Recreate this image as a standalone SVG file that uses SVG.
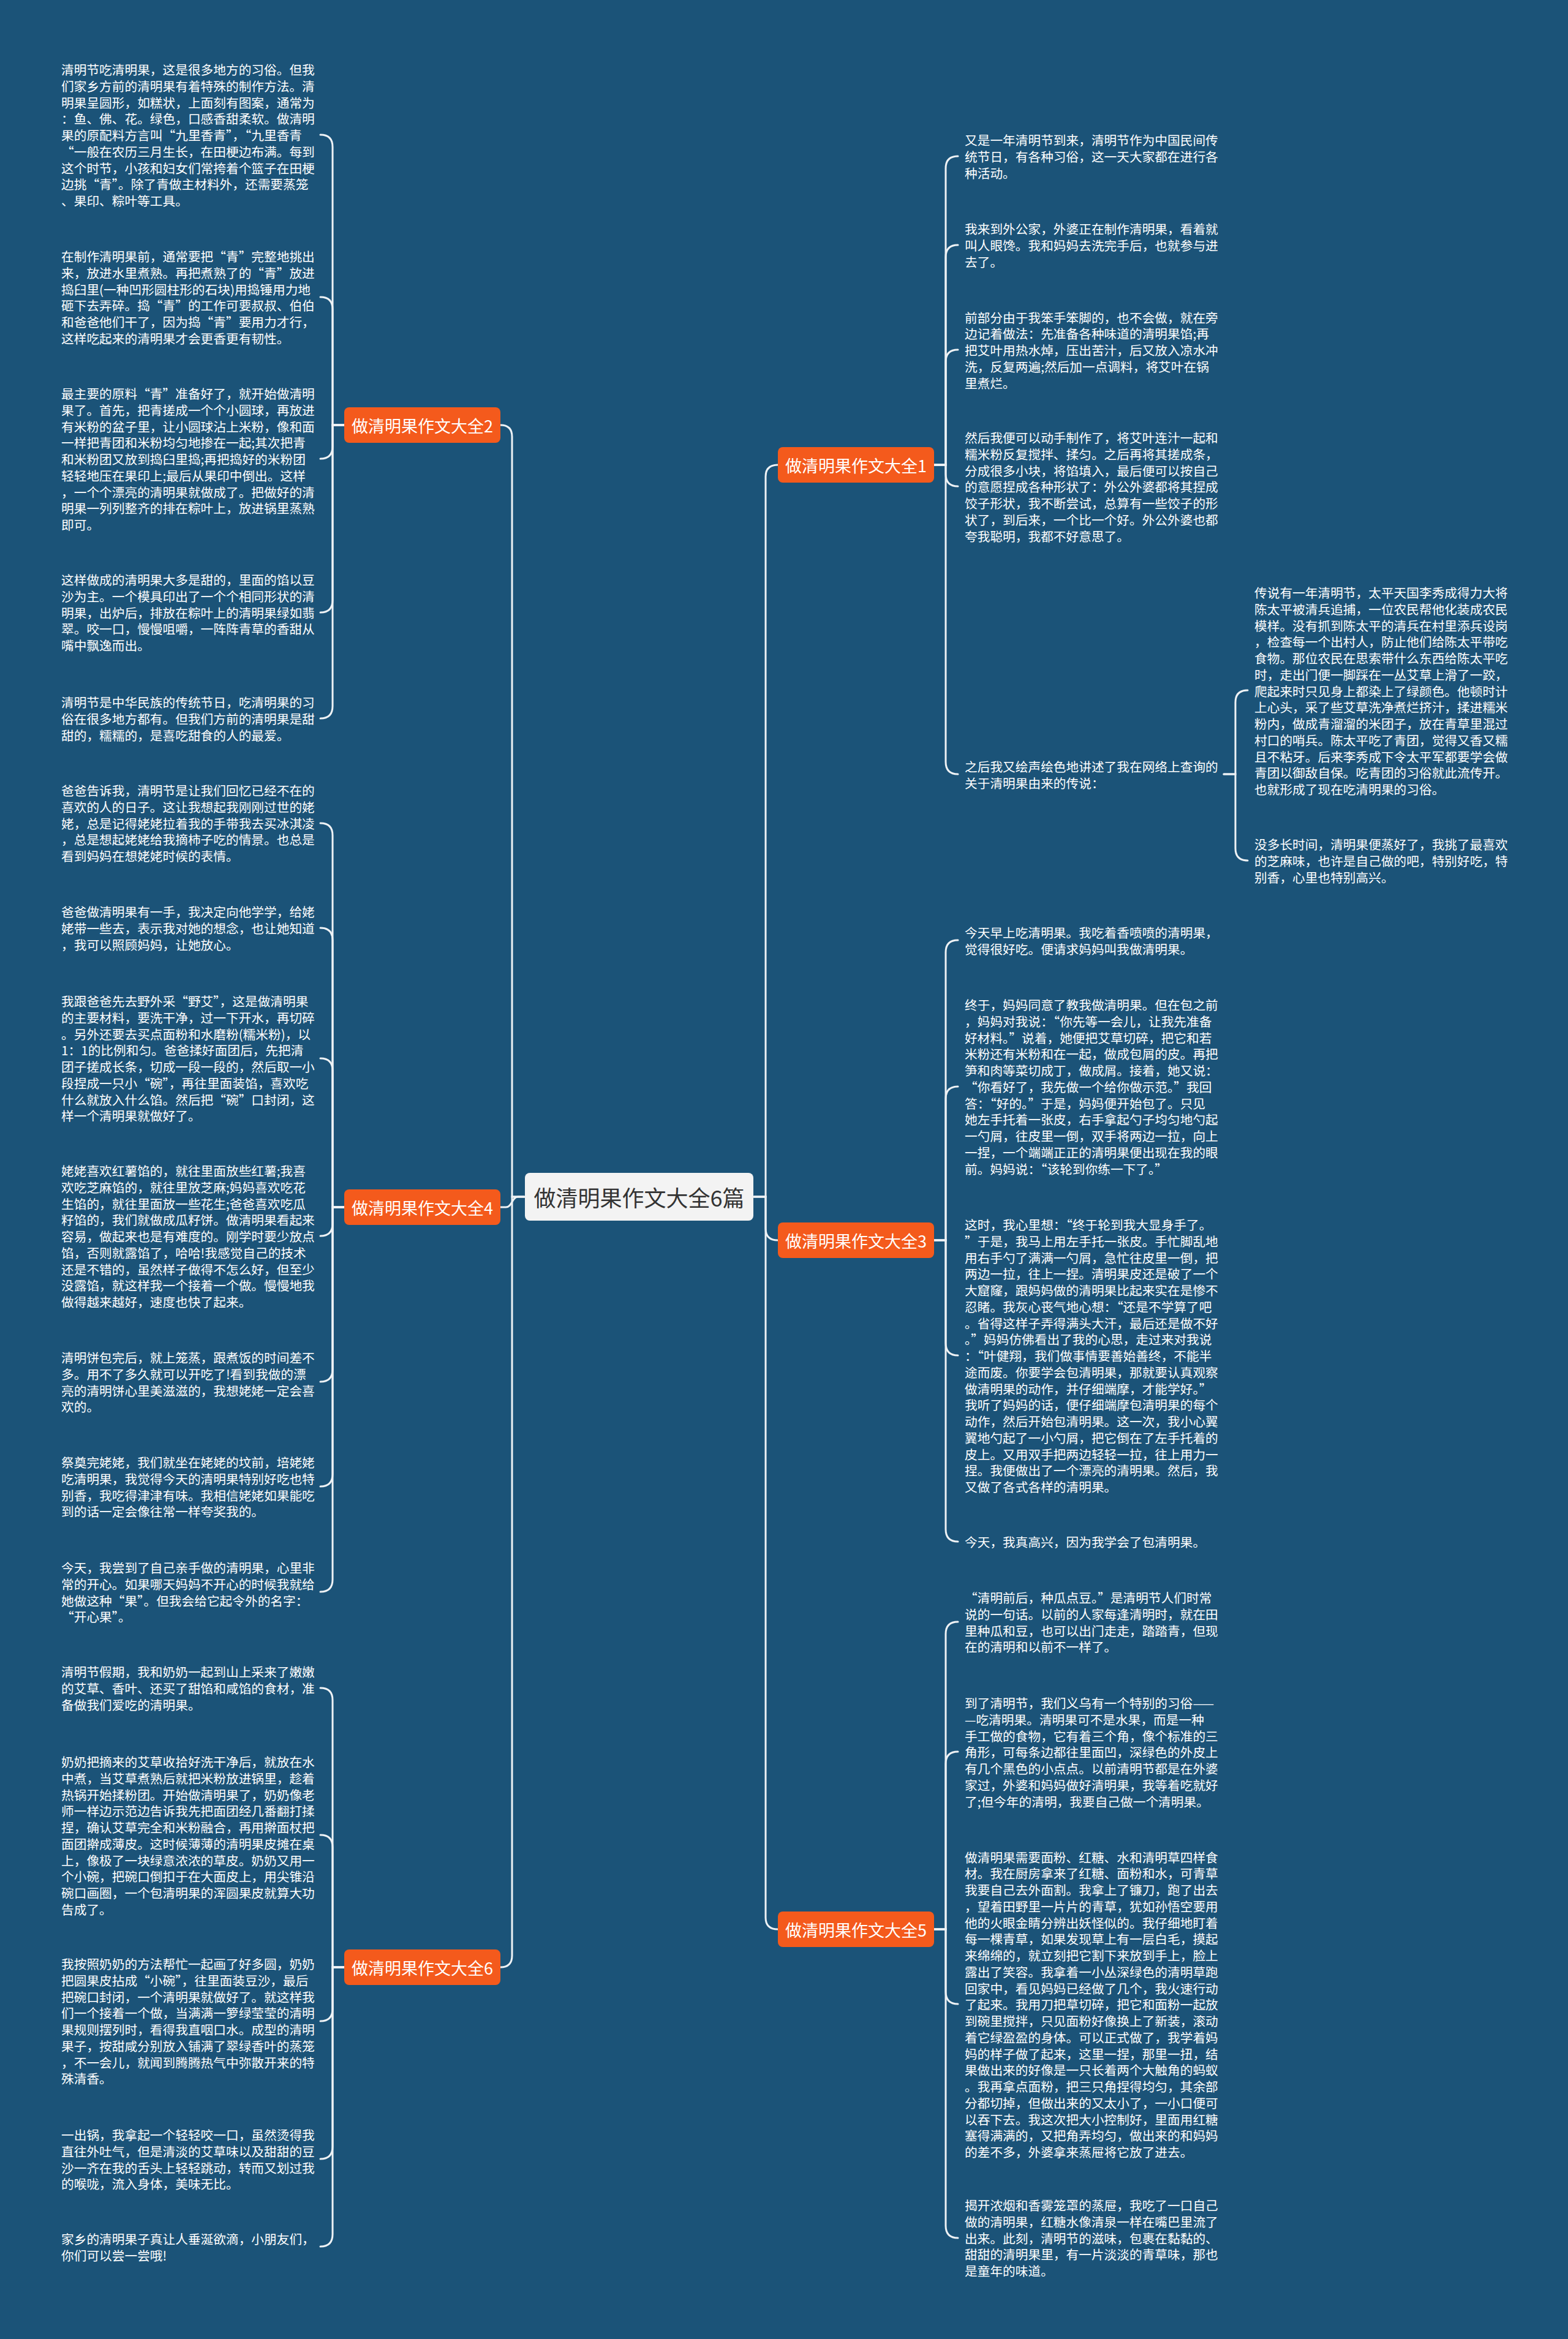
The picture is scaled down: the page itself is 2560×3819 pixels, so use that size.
<svg xmlns="http://www.w3.org/2000/svg" width="2560" height="3819" viewBox="0 0 2560 3819">
<style>
.ln{fill:none;stroke:#eef2f5;stroke-width:3;stroke-linecap:round}
.t{font-family:"Noto Sans CJK SC","Noto Sans",sans-serif;font-size:20.7px;fill:#ffffff;dominant-baseline:central}
.br{fill:#f45a1c}
.bt{font-family:"Noto Sans CJK SC","Noto Sans",sans-serif;font-size:27px;fill:#ffffff;text-anchor:middle;dominant-baseline:central}
.ct{font-family:"Noto Sans CJK SC","Noto Sans",sans-serif;font-size:36px;fill:#333333;text-anchor:middle;dominant-baseline:central}
</style>
<rect x="0" y="0" width="2560" height="3819" fill="#1b5378"/>
<g id="connectors">
<path class="ln" d="M856 1954 H836 V713 Q836 694 817 694"/>
<path class="ln" d="M856 1954 H846 C836 1954 836 1971 826 1971 H817"/>
<path class="ln" d="M856 1954 H836 V3193 Q836 3212 817 3212"/>
<path class="ln" d="M1231 1954 H1250 V778 Q1250 759 1270 759"/>
<path class="ln" d="M1231 1954 H1250 V2006 Q1250 2025 1270 2025"/>
<path class="ln" d="M1231 1954 H1250 V3131 Q1250 3150 1270 3150"/>
<path class="ln" d="M562 694 H543 V240 Q543 220 523 220"/>
<path class="ln" d="M562 694 H543 V505 Q543 485 523 485"/>
<path class="ln" d="M562 694 H543 V729 Q543 749 523 749"/>
<path class="ln" d="M562 694 H543 V980 Q543 1000 523 1000"/>
<path class="ln" d="M562 694 H543 V1153 Q543 1173 523 1173"/>
<path class="ln" d="M562 1971 H543 V1364 Q543 1344 523 1344"/>
<path class="ln" d="M562 1971 H543 V1535 Q543 1515 523 1515"/>
<path class="ln" d="M562 1971 H543 V1748 Q543 1728 523 1728"/>
<path class="ln" d="M562 1971 H543 V1998 Q543 2018 523 2018"/>
<path class="ln" d="M562 1971 H543 V2236 Q543 2256 523 2256"/>
<path class="ln" d="M562 1971 H543 V2407 Q543 2427 523 2427"/>
<path class="ln" d="M562 1971 H543 V2579 Q543 2599 523 2599"/>
<path class="ln" d="M562 3212 H543 V2776 Q543 2756 523 2756"/>
<path class="ln" d="M562 3212 H543 V3016 Q543 2996 523 2996"/>
<path class="ln" d="M562 3212 H543 V3280 Q543 3300 523 3300"/>
<path class="ln" d="M562 3212 H543 V3505 Q543 3525 523 3525"/>
<path class="ln" d="M562 3212 H543 V3648 Q543 3668 523 3668"/>
<path class="ln" d="M1525 759 H1544 V275 Q1544 255 1564 255"/>
<path class="ln" d="M1525 759 H1544 V420 Q1544 400 1564 400"/>
<path class="ln" d="M1525 759 H1544 V591 Q1544 571 1564 571"/>
<path class="ln" d="M1525 759 H1544 V774 Q1544 794 1564 794"/>
<path class="ln" d="M1525 759 H1544 V1244 Q1544 1264 1564 1264"/>
<path class="ln" d="M1998 1264 H2017 V1147 Q2017 1127 2037 1127"/>
<path class="ln" d="M1998 1264 H2017 V1385 Q2017 1405 2037 1405"/>
<path class="ln" d="M1525 2025 H1544 V1555 Q1544 1535 1564 1535"/>
<path class="ln" d="M1525 2025 H1544 V1794 Q1544 1774 1564 1774"/>
<path class="ln" d="M1525 2025 H1544 V2193 Q1544 2213 1564 2213"/>
<path class="ln" d="M1525 2025 H1544 V2497 Q1544 2517 1564 2517"/>
<path class="ln" d="M1525 3150 H1544 V2668 Q1544 2648 1564 2648"/>
<path class="ln" d="M1525 3150 H1544 V2880 Q1544 2860 1564 2860"/>
<path class="ln" d="M1525 3150 H1544 V3252 Q1544 3272 1564 3272"/>
<path class="ln" d="M1525 3150 H1544 V3634 Q1544 3654 1564 3654"/>
</g>
<g id="root"><rect x="857" y="1915" width="373" height="78" rx="8" fill="#f3f3f3"/><text class="ct" x="1043.5" y="1954">做清明果作文大全6篇</text></g>
<g id="b2"><rect class="br" x="562" y="665" width="255" height="58" rx="8"/><text class="bt" x="689.5" y="694">做清明果作文大全2</text></g>
<g id="b4"><rect class="br" x="562" y="1942" width="255" height="58" rx="8"/><text class="bt" x="689.5" y="1971">做清明果作文大全4</text></g>
<g id="b6"><rect class="br" x="562" y="3183" width="255" height="58" rx="8"/><text class="bt" x="689.5" y="3212">做清明果作文大全6</text></g>
<g id="b1"><rect class="br" x="1270" y="730" width="255" height="58" rx="8"/><text class="bt" x="1397.5" y="759">做清明果作文大全1</text></g>
<g id="b3"><rect class="br" x="1270" y="1996" width="255" height="58" rx="8"/><text class="bt" x="1397.5" y="2025">做清明果作文大全3</text></g>
<g id="b5"><rect class="br" x="1270" y="3121" width="255" height="58" rx="8"/><text class="bt" x="1397.5" y="3150">做清明果作文大全5</text></g>

<g id="l2a"><text class="t" x="100" y="113"><tspan x="100" dy="0">清明节吃清明果，这是很多地方的习俗。但我</tspan><tspan x="100" dy="26.75">们家乡方前的清明果有着特殊的制作方法。清</tspan><tspan x="100" dy="26.75">明果呈圆形，如糕状，上面刻有图案，通常为</tspan><tspan x="100" dy="26.75">：鱼、佛、花。绿色，口感香甜柔软。做清明</tspan><tspan x="100" dy="26.75">果的原配料方言叫“九里香青”，“九里香青</tspan><tspan x="100" dy="26.75">“一般在农历三月生长，在田梗边布满。每到</tspan><tspan x="100" dy="26.75">这个时节，小孩和妇女们常挎着个篮子在田梗</tspan><tspan x="100" dy="26.75">边挑“青”。除了青做主材料外，还需要蒸笼</tspan><tspan x="100" dy="26.75">、果印、粽叶等工具。</tspan></text></g>
<g id="l2b"><text class="t" x="100" y="418"><tspan x="100" dy="0">在制作清明果前，通常要把“青”完整地挑出</tspan><tspan x="100" dy="26.75">来，放进水里煮熟。再把煮熟了的“青”放进</tspan><tspan x="100" dy="26.75">捣臼里(一种凹形圆柱形的石块)用捣锤用力地</tspan><tspan x="100" dy="26.75">砸下去弄碎。捣“青”的工作可要叔叔、伯伯</tspan><tspan x="100" dy="26.75">和爸爸他们干了，因为捣“青”要用力才行，</tspan><tspan x="100" dy="26.75">这样吃起来的清明果才会更香更有韧性。</tspan></text></g>
<g id="l2c"><text class="t" x="100" y="642"><tspan x="100" dy="0">最主要的原料“青”准备好了，就开始做清明</tspan><tspan x="100" dy="26.75">果了。首先，把青搓成一个个小圆球，再放进</tspan><tspan x="100" dy="26.75">有米粉的盆子里，让小圆球沾上米粉，像和面</tspan><tspan x="100" dy="26.75">一样把青团和米粉均匀地掺在一起;其次把青</tspan><tspan x="100" dy="26.75">和米粉团又放到捣臼里捣;再把捣好的米粉团</tspan><tspan x="100" dy="26.75">轻轻地压在果印上;最后从果印中倒出。这样</tspan><tspan x="100" dy="26.75">，一个个漂亮的清明果就做成了。把做好的清</tspan><tspan x="100" dy="26.75">明果一列列整齐的排在粽叶上，放进锅里蒸熟</tspan><tspan x="100" dy="26.75">即可。</tspan></text></g>
<g id="l2d"><text class="t" x="100" y="946"><tspan x="100" dy="0">这样做成的清明果大多是甜的，里面的馅以豆</tspan><tspan x="100" dy="26.75">沙为主。一个模具印出了一个个相同形状的清</tspan><tspan x="100" dy="26.75">明果，出炉后，排放在粽叶上的清明果绿如翡</tspan><tspan x="100" dy="26.75">翠。咬一口，慢慢咀嚼，一阵阵青草的香甜从</tspan><tspan x="100" dy="26.75">嘴中飘逸而出。</tspan></text></g>
<g id="l2e"><text class="t" x="100" y="1146"><tspan x="100" dy="0">清明节是中华民族的传统节日，吃清明果的习</tspan><tspan x="100" dy="26.75">俗在很多地方都有。但我们方前的清明果是甜</tspan><tspan x="100" dy="26.75">甜的，糯糯的，是喜吃甜食的人的最爱。</tspan></text></g>

<g id="l4a"><text class="t" x="100" y="1290"><tspan x="100" dy="0">爸爸告诉我，清明节是让我们回忆已经不在的</tspan><tspan x="100" dy="26.75">喜欢的人的日子。这让我想起我刚刚过世的姥</tspan><tspan x="100" dy="26.75">姥，总是记得姥姥拉着我的手带我去买冰淇凌</tspan><tspan x="100" dy="26.75">，总是想起姥姥给我摘柿子吃的情景。也总是</tspan><tspan x="100" dy="26.75">看到妈妈在想姥姥时候的表情。</tspan></text></g>
<g id="l4b"><text class="t" x="100" y="1488"><tspan x="100" dy="0">爸爸做清明果有一手，我决定向他学学，给姥</tspan><tspan x="100" dy="26.75">姥带一些去，表示我对她的想念，也让她知道</tspan><tspan x="100" dy="26.75">，我可以照顾妈妈，让她放心。</tspan></text></g>
<g id="l4c"><text class="t" x="100" y="1634"><tspan x="100" dy="0">我跟爸爸先去野外采“野艾”，这是做清明果</tspan><tspan x="100" dy="26.75">的主要材料，要洗干净，过一下开水，再切碎</tspan><tspan x="100" dy="26.75">。另外还要去买点面粉和水磨粉(糯米粉)，以</tspan><tspan x="100" dy="26.75">1：1的比例和匀。爸爸揉好面团后，先把清</tspan><tspan x="100" dy="26.75">团子搓成长条，切成一段一段的，然后取一小</tspan><tspan x="100" dy="26.75">段捏成一只小“碗”，再往里面装馅，喜欢吃</tspan><tspan x="100" dy="26.75">什么就放入什么馅。然后把“碗”口封闭，这</tspan><tspan x="100" dy="26.75">样一个清明果就做好了。</tspan></text></g>
<g id="l4d"><text class="t" x="100" y="1911"><tspan x="100" dy="0">姥姥喜欢红薯馅的，就往里面放些红薯;我喜</tspan><tspan x="100" dy="26.75">欢吃芝麻馅的，就往里放芝麻;妈妈喜欢吃花</tspan><tspan x="100" dy="26.75">生馅的，就往里面放一些花生;爸爸喜欢吃瓜</tspan><tspan x="100" dy="26.75">籽馅的，我们就做成瓜籽饼。做清明果看起来</tspan><tspan x="100" dy="26.75">容易，做起来也是有难度的。刚学时要少放点</tspan><tspan x="100" dy="26.75">馅，否则就露馅了，哈哈!我感觉自己的技术</tspan><tspan x="100" dy="26.75">还是不错的，虽然样子做得不怎么好，但至少</tspan><tspan x="100" dy="26.75">没露馅，就这样我一个接着一个做。慢慢地我</tspan><tspan x="100" dy="26.75">做得越来越好，速度也快了起来。</tspan></text></g>
<g id="l4e"><text class="t" x="100" y="2216"><tspan x="100" dy="0">清明饼包完后，就上笼蒸，跟煮饭的时间差不</tspan><tspan x="100" dy="26.75">多。用不了多久就可以开吃了!看到我做的漂</tspan><tspan x="100" dy="26.75">亮的清明饼心里美滋滋的，我想姥姥一定会喜</tspan><tspan x="100" dy="26.75">欢的。</tspan></text></g>
<g id="l4f"><text class="t" x="100" y="2387"><tspan x="100" dy="0">祭奠完姥姥，我们就坐在姥姥的坟前，培姥姥</tspan><tspan x="100" dy="26.75">吃清明果，我觉得今天的清明果特别好吃也特</tspan><tspan x="100" dy="26.75">别香，我吃得津津有味。我相信姥姥如果能吃</tspan><tspan x="100" dy="26.75">到的话一定会像往常一样夸奖我的。</tspan></text></g>
<g id="l4g"><text class="t" x="100" y="2559"><tspan x="100" dy="0">今天，我尝到了自己亲手做的清明果，心里非</tspan><tspan x="100" dy="26.75">常的开心。如果哪天妈妈不开心的时候我就给</tspan><tspan x="100" dy="26.75">她做这种“果”。但我会给它起令外的名字：</tspan><tspan x="100" dy="26.75">“开心果”。</tspan></text></g>

<g id="l6a"><text class="t" x="100" y="2729"><tspan x="100" dy="0">清明节假期，我和奶奶一起到山上采来了嫩嫩</tspan><tspan x="100" dy="26.75">的艾草、香叶、还买了甜馅和咸馅的食材，准</tspan><tspan x="100" dy="26.75">备做我们爱吃的清明果。</tspan></text></g>
<g id="l6b"><text class="t" x="100" y="2876"><tspan x="100" dy="0">奶奶把摘来的艾草收拾好洗干净后，就放在水</tspan><tspan x="100" dy="26.75">中煮，当艾草煮熟后就把米粉放进锅里，趁着</tspan><tspan x="100" dy="26.75">热锅开始揉粉团。开始做清明果了，奶奶像老</tspan><tspan x="100" dy="26.75">师一样边示范边告诉我先把面团经几番翻打揉</tspan><tspan x="100" dy="26.75">捏，确认艾草完全和米粉融合，再用擀面杖把</tspan><tspan x="100" dy="26.75">面团擀成薄皮。这时候薄薄的清明果皮摊在桌</tspan><tspan x="100" dy="26.75">上，像极了一块绿意浓浓的草皮。奶奶又用一</tspan><tspan x="100" dy="26.75">个小碗，把碗口倒扣于在大面皮上，用尖锥沿</tspan><tspan x="100" dy="26.75">碗口画圈，一个包清明果的浑圆果皮就算大功</tspan><tspan x="100" dy="26.75">告成了。</tspan></text></g>
<g id="l6c"><text class="t" x="100" y="3206"><tspan x="100" dy="0">我按照奶奶的方法帮忙一起画了好多圆，奶奶</tspan><tspan x="100" dy="26.75">把圆果皮拈成“小碗”，往里面装豆沙，最后</tspan><tspan x="100" dy="26.75">把碗口封闭，一个清明果就做好了。就这样我</tspan><tspan x="100" dy="26.75">们一个接着一个做，当满满一箩绿莹莹的清明</tspan><tspan x="100" dy="26.75">果规则摆列时，看得我直咽口水。成型的清明</tspan><tspan x="100" dy="26.75">果子，按甜咸分别放入铺满了翠绿香叶的蒸笼</tspan><tspan x="100" dy="26.75">，不一会儿，就闻到腾腾热气中弥散开来的特</tspan><tspan x="100" dy="26.75">殊清香。</tspan></text></g>
<g id="l6d"><text class="t" x="100" y="3485"><tspan x="100" dy="0">一出锅，我拿起一个轻轻咬一口，虽然烫得我</tspan><tspan x="100" dy="26.75">直往外吐气，但是清淡的艾草味以及甜甜的豆</tspan><tspan x="100" dy="26.75">沙一齐在我的舌头上轻轻跳动，转而又划过我</tspan><tspan x="100" dy="26.75">的喉咙，流入身体，美味无比。</tspan></text></g>
<g id="l6e"><text class="t" x="100" y="3655"><tspan x="100" dy="0">家乡的清明果子真让人垂涎欲滴，小朋友们，</tspan><tspan x="100" dy="26.75">你们可以尝一尝哦!</tspan></text></g>

<g id="r1a"><text class="t" x="1575" y="228"><tspan x="1575" dy="0">又是一年清明节到来，清明节作为中国民间传</tspan><tspan x="1575" dy="26.75">统节日，有各种习俗，这一天大家都在进行各</tspan><tspan x="1575" dy="26.75">种活动。</tspan></text></g>
<g id="r1b"><text class="t" x="1575" y="373"><tspan x="1575" dy="0">我来到外公家，外婆正在制作清明果，看着就</tspan><tspan x="1575" dy="26.75">叫人眼馋。我和妈妈去洗完手后，也就参与进</tspan><tspan x="1575" dy="26.75">去了。</tspan></text></g>
<g id="r1c"><text class="t" x="1575" y="517.5"><tspan x="1575" dy="0">前部分由于我笨手笨脚的，也不会做，就在旁</tspan><tspan x="1575" dy="26.75">边记着做法：先准备各种味道的清明果馅;再</tspan><tspan x="1575" dy="26.75">把艾叶用热水焯，压出苦汁，后又放入凉水冲</tspan><tspan x="1575" dy="26.75">洗，反复两遍;然后加一点调料，将艾叶在锅</tspan><tspan x="1575" dy="26.75">里煮烂。</tspan></text></g>
<g id="r1d"><text class="t" x="1575" y="714"><tspan x="1575" dy="0">然后我便可以动手制作了，将艾叶连汁一起和</tspan><tspan x="1575" dy="26.75">糯米粉反复搅拌、揉匀。之后再将其搓成条，</tspan><tspan x="1575" dy="26.75">分成很多小块，将馅填入，最后便可以按自己</tspan><tspan x="1575" dy="26.75">的意愿捏成各种形状了：外公外婆都将其捏成</tspan><tspan x="1575" dy="26.75">饺子形状，我不断尝试，总算有一些饺子的形</tspan><tspan x="1575" dy="26.75">状了，到后来，一个比一个好。外公外婆也都</tspan><tspan x="1575" dy="26.75">夸我聪明，我都不好意思了。</tspan></text></g>
<g id="r1e"><text class="t" x="1575" y="1251"><tspan x="1575" dy="0">之后我又绘声绘色地讲述了我在网络上查询的</tspan><tspan x="1575" dy="26.75">关于清明果由来的传说：</tspan></text></g>
<g id="f1"><text class="t" x="2048" y="967"><tspan x="2048" dy="0">传说有一年清明节，太平天国李秀成得力大将</tspan><tspan x="2048" dy="26.75">陈太平被清兵追捕，一位农民帮他化装成农民</tspan><tspan x="2048" dy="26.75">模样。没有抓到陈太平的清兵在村里添兵设岗</tspan><tspan x="2048" dy="26.75">，检查每一个出村人，防止他们给陈太平带吃</tspan><tspan x="2048" dy="26.75">食物。那位农民在思索带什么东西给陈太平吃</tspan><tspan x="2048" dy="26.75">时，走出门便一脚踩在一丛艾草上滑了一跤，</tspan><tspan x="2048" dy="26.75">爬起来时只见身上都染上了绿颜色。他顿时计</tspan><tspan x="2048" dy="26.75">上心头，采了些艾草洗净煮烂挤汁，揉进糯米</tspan><tspan x="2048" dy="26.75">粉内，做成青溜溜的米团子，放在青草里混过</tspan><tspan x="2048" dy="26.75">村口的哨兵。陈太平吃了青团，觉得又香又糯</tspan><tspan x="2048" dy="26.75">且不粘牙。后来李秀成下令太平军都要学会做</tspan><tspan x="2048" dy="26.75">青团以御敌自保。吃青团的习俗就此流传开。</tspan><tspan x="2048" dy="26.75">也就形成了现在吃清明果的习俗。</tspan></text></g>
<g id="f2"><text class="t" x="2048" y="1378"><tspan x="2048" dy="0">没多长时间，清明果便蒸好了，我挑了最喜欢</tspan><tspan x="2048" dy="26.75">的芝麻味，也许是自己做的吧，特别好吃，特</tspan><tspan x="2048" dy="26.75">别香，心里也特别高兴。</tspan></text></g>

<g id="r3a"><text class="t" x="1575" y="1522"><tspan x="1575" dy="0">今天早上吃清明果。我吃着香喷喷的清明果，</tspan><tspan x="1575" dy="26.75">觉得很好吃。便请求妈妈叫我做清明果。</tspan></text></g>
<g id="r3b"><text class="t" x="1575" y="1640"><tspan x="1575" dy="0">终于，妈妈同意了教我做清明果。但在包之前</tspan><tspan x="1575" dy="26.75">，妈妈对我说：“你先等一会儿，让我先准备</tspan><tspan x="1575" dy="26.75">好材料。”说着，她便把艾草切碎，把它和若</tspan><tspan x="1575" dy="26.75">米粉还有米粉和在一起，做成包屑的皮。再把</tspan><tspan x="1575" dy="26.75">笋和肉等菜切成丁，做成屑。接着，她又说：</tspan><tspan x="1575" dy="26.75">“你看好了，我先做一个给你做示范。”我回</tspan><tspan x="1575" dy="26.75">答：“好的。”于是，妈妈便开始包了。只见</tspan><tspan x="1575" dy="26.75">她左手托着一张皮，右手拿起勺子均匀地勺起</tspan><tspan x="1575" dy="26.75">一勺屑，往皮里一倒，双手将两边一拉，向上</tspan><tspan x="1575" dy="26.75">一捏，一个端端正正的清明果便出现在我的眼</tspan><tspan x="1575" dy="26.75">前。妈妈说：“该轮到你练一下了。”</tspan></text></g>
<g id="r3c"><text class="t" x="1575" y="1999"><tspan x="1575" dy="0">这时，我心里想：“终于轮到我大显身手了。</tspan><tspan x="1575" dy="26.75">”于是，我马上用左手托一张皮。手忙脚乱地</tspan><tspan x="1575" dy="26.75">用右手勺了满满一勺屑，急忙往皮里一倒，把</tspan><tspan x="1575" dy="26.75">两边一拉，往上一捏。清明果皮还是破了一个</tspan><tspan x="1575" dy="26.75">大窟窿，跟妈妈做的清明果比起来实在是惨不</tspan><tspan x="1575" dy="26.75">忍睹。我灰心丧气地心想：“还是不学算了吧</tspan><tspan x="1575" dy="26.75">。省得这样子弄得满头大汗，最后还是做不好</tspan><tspan x="1575" dy="26.75">。”妈妈仿佛看出了我的心思，走过来对我说</tspan><tspan x="1575" dy="26.75">：“叶健翔，我们做事情要善始善终，不能半</tspan><tspan x="1575" dy="26.75">途而废。你要学会包清明果，那就要认真观察</tspan><tspan x="1575" dy="26.75">做清明果的动作，并仔细端摩，才能学好。”</tspan><tspan x="1575" dy="26.75">我听了妈妈的话，便仔细端摩包清明果的每个</tspan><tspan x="1575" dy="26.75">动作，然后开始包清明果。这一次，我小心翼</tspan><tspan x="1575" dy="26.75">翼地勺起了一小勺屑，把它倒在了左手托着的</tspan><tspan x="1575" dy="26.75">皮上。又用双手把两边轻轻一拉，往上用力一</tspan><tspan x="1575" dy="26.75">捏。我便做出了一个漂亮的清明果。然后，我</tspan><tspan x="1575" dy="26.75">又做了各式各样的清明果。</tspan></text></g>
<g id="r3d"><text class="t" x="1575" y="2517">今天，我真高兴，因为我学会了包清明果。</text></g>

<g id="r5a"><text class="t" x="1575" y="2608"><tspan x="1575" dy="0">“清明前后，种瓜点豆。”是清明节人们时常</tspan><tspan x="1575" dy="26.75">说的一句话。以前的人家每逢清明时，就在田</tspan><tspan x="1575" dy="26.75">里种瓜和豆，也可以出门走走，踏踏青，但现</tspan><tspan x="1575" dy="26.75">在的清明和以前不一样了。</tspan></text></g>
<g id="r5b"><text class="t" x="1575" y="2780"><tspan x="1575" dy="0">到了清明节，我们义乌有一个特别的习俗——</tspan><tspan x="1575" dy="26.75">—吃清明果。清明果可不是水果，而是一种</tspan><tspan x="1575" dy="26.75">手工做的食物，它有着三个角，像个标准的三</tspan><tspan x="1575" dy="26.75">角形，可每条边都往里面凹，深绿色的外皮上</tspan><tspan x="1575" dy="26.75">有几个黑色的小点点。以前清明节都是在外婆</tspan><tspan x="1575" dy="26.75">家过，外婆和妈妈做好清明果，我等着吃就好</tspan><tspan x="1575" dy="26.75">了;但今年的清明，我要自己做一个清明果。</tspan></text></g>
<g id="r5c"><text class="t" x="1575" y="3031.5"><tspan x="1575" dy="0">做清明果需要面粉、红糖、水和清明草四样食</tspan><tspan x="1575" dy="26.75">材。我在厨房拿来了红糖、面粉和水，可青草</tspan><tspan x="1575" dy="26.75">我要自己去外面割。我拿上了镰刀，跑了出去</tspan><tspan x="1575" dy="26.75">，望着田野里一片片的青草，犹如孙悟空要用</tspan><tspan x="1575" dy="26.75">他的火眼金睛分辨出妖怪似的。我仔细地盯着</tspan><tspan x="1575" dy="26.75">每一棵青草，如果发现草上有一层白毛，摸起</tspan><tspan x="1575" dy="26.75">来绵绵的，就立刻把它割下来放到手上，脸上</tspan><tspan x="1575" dy="26.75">露出了笑容。我拿着一小丛深绿色的清明草跑</tspan><tspan x="1575" dy="26.75">回家中，看见妈妈已经做了几个，我火速行动</tspan><tspan x="1575" dy="26.75">了起来。我用刀把草切碎，把它和面粉一起放</tspan><tspan x="1575" dy="26.75">到碗里搅拌，只见面粉好像换上了新装，滚动</tspan><tspan x="1575" dy="26.75">着它绿盈盈的身体。可以正式做了，我学着妈</tspan><tspan x="1575" dy="26.75">妈的样子做了起来，这里一捏，那里一扭，结</tspan><tspan x="1575" dy="26.75">果做出来的好像是一只长着两个大触角的蚂蚁</tspan><tspan x="1575" dy="26.75">。我再拿点面粉，把三只角捏得均匀，其余部</tspan><tspan x="1575" dy="26.75">分都切掉，但做出来的又太小了，一小口便可</tspan><tspan x="1575" dy="26.75">以吞下去。我这次把大小控制好，里面用红糖</tspan><tspan x="1575" dy="26.75">塞得满满的，又把角弄均匀，做出来的和妈妈</tspan><tspan x="1575" dy="26.75">的差不多，外婆拿来蒸屉将它放了进去。</tspan></text></g>
<g id="r5d"><text class="t" x="1575" y="3600"><tspan x="1575" dy="0">揭开浓烟和香雾笼罩的蒸屉，我吃了一口自己</tspan><tspan x="1575" dy="26.75">做的清明果，红糖水像清泉一样在嘴巴里流了</tspan><tspan x="1575" dy="26.75">出来。此刻，清明节的滋味，包裹在黏黏的、</tspan><tspan x="1575" dy="26.75">甜甜的清明果里，有一片淡淡的青草味，那也</tspan><tspan x="1575" dy="26.75">是童年的味道。</tspan></text></g>
</svg>
